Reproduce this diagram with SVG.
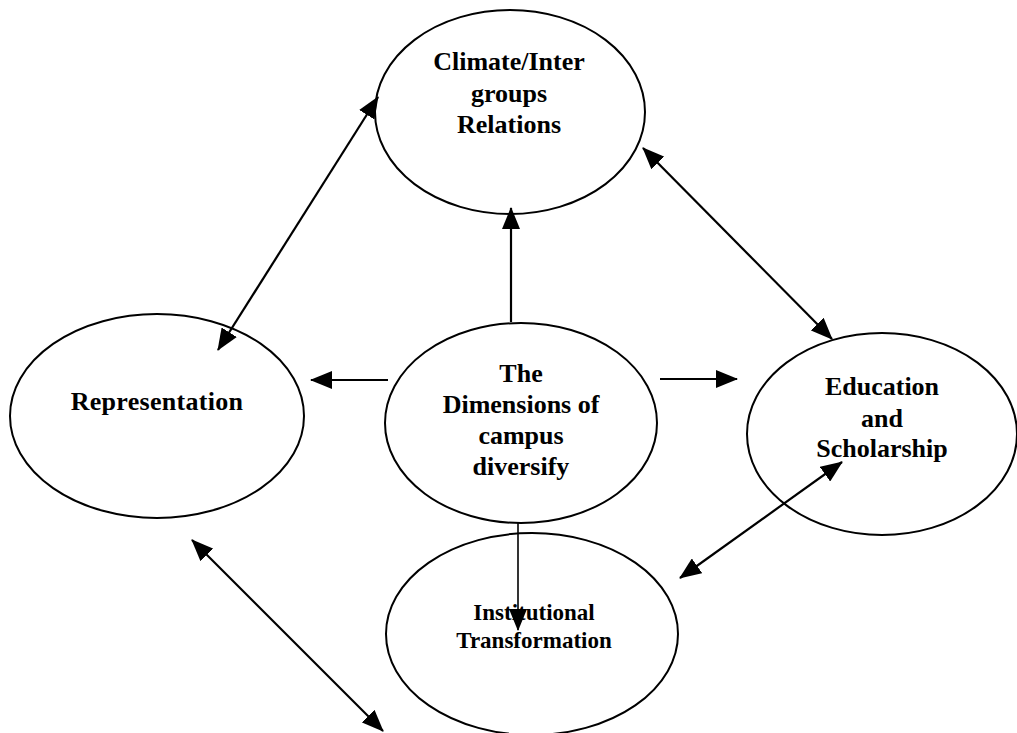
<svg xmlns="http://www.w3.org/2000/svg" width="1017" height="733" viewBox="0 0 1017 733">
<style>
.node ellipse{fill:#fff;stroke:#000;stroke-width:2}
.node text{font-family:"Liberation Serif","Times New Roman",serif;font-weight:bold;font-size:26px;fill:#000;text-anchor:middle}
.conn line{stroke:#000;stroke-width:2.2;fill:none}
</style>
<defs>
<marker id="ah" markerUnits="userSpaceOnUse" markerWidth="22" markerHeight="18" refX="21" refY="9" orient="auto-start-reverse" viewBox="0 0 22 18">
<path d="M0,0 L22,9 L0,18 z" fill="#000"/>
</marker>
</defs>
<rect width="1017" height="733" fill="#fff"/>
<g id="climate" class="node">
<ellipse cx="510" cy="112" rx="135" ry="102"/>
<text x="509" y="70">Climate/Inter</text>
<text x="509" y="102">groups</text>
<text x="509" y="133">Relations</text>
</g>
<g id="dimensions" class="node">
<ellipse cx="521" cy="423" rx="136" ry="100"/>
<text x="521" y="382">The</text>
<text x="521" y="413">Dimensions of</text>
<text x="521" y="444">campus</text>
<text x="521" y="475">diversify</text>
</g>
<g id="representation" class="node">
<ellipse cx="157" cy="416" rx="147" ry="102"/>
<text x="157" y="410" style="letter-spacing:0.3px">Representation</text>
</g>
<g id="education" class="node">
<ellipse cx="882" cy="434" rx="135" ry="101"/>
<text x="882" y="395">Education</text>
<text x="882" y="427">and</text>
<text x="882" y="457">Scholarship</text>
</g>
<g id="institutional" class="node">
<ellipse cx="532" cy="634" rx="146" ry="101"/>
<text x="534" y="620" style="font-size:23px">Institutional</text>
<text x="534" y="648" style="font-size:23px">Transformation</text>
</g>
<g id="connectors" class="conn">
<line x1="511" y1="322" x2="511" y2="208" marker-end="url(#ah)"/>
<line x1="388" y1="380" x2="311" y2="380" marker-end="url(#ah)"/>
<line x1="660" y1="379" x2="737" y2="379" marker-end="url(#ah)"/>
<line x1="518" y1="522" x2="518" y2="630" marker-end="url(#ah)" style="stroke-width:1.6"/>
<line x1="378" y1="97" x2="218" y2="350" marker-start="url(#ah)" marker-end="url(#ah)"/>
<line x1="643" y1="148" x2="832" y2="339" marker-start="url(#ah)" marker-end="url(#ah)"/>
<line x1="842" y1="462" x2="680" y2="578" marker-start="url(#ah)" marker-end="url(#ah)"/>
<line x1="192" y1="540" x2="383" y2="731" marker-start="url(#ah)" marker-end="url(#ah)"/>
</g>
</svg>
